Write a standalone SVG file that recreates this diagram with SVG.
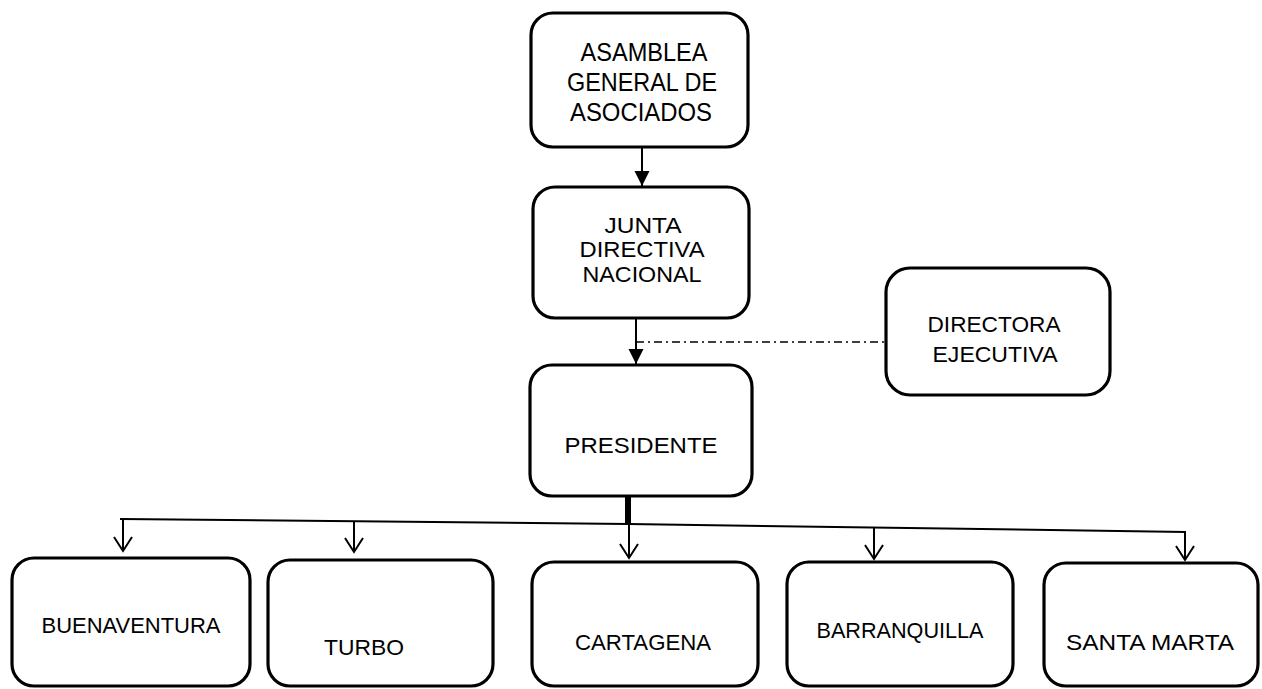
<svg xmlns="http://www.w3.org/2000/svg" width="1262" height="689" viewBox="0 0 1262 689">
<style>
.box{fill:#fff;stroke:#000;stroke-width:3.2}
.t{font-family:"Liberation Sans",Arial,sans-serif;fill:#000;text-anchor:middle;font-size:22.5px}
.big{font-size:25px}
.ln{fill:none;stroke:#000;stroke-width:2}
.dd{fill:none;stroke:#000;stroke-width:1.5;stroke-dasharray:8 4 2 4}
</style>
<defs>
<marker id="fill" markerUnits="userSpaceOnUse" markerWidth="16" markerHeight="16" refX="15" refY="7.5" orient="auto">
<path d="M0,0 L15,7.5 L0,15 Z" fill="#000"/>
</marker>
<marker id="open" markerUnits="userSpaceOnUse" markerWidth="18" markerHeight="22" refX="15" refY="10" orient="auto">
<path d="M1,1 L15,10 L1,19" fill="none" stroke="#000" stroke-width="2"/>
</marker>
</defs>
<rect width="1262" height="689" fill="#fff"/>
<g id="connectors">
<line class="ln" x1="642" y1="147" x2="642" y2="186" marker-end="url(#fill)"/>
<line class="ln" x1="636" y1="318" x2="636" y2="364" marker-end="url(#fill)"/>
<line class="dd" x1="636" y1="342" x2="886" y2="342"/>
<line x1="628" y1="496" x2="628" y2="525" stroke="#000" stroke-width="6"/>
<polyline class="ln" points="120,519 628,524 1186,532"/>
<line class="ln" x1="123" y1="519" x2="123" y2="551" marker-end="url(#open)"/>
<line class="ln" x1="354" y1="521" x2="354" y2="552" marker-end="url(#open)"/>
<line class="ln" x1="629" y1="524" x2="629" y2="558" marker-end="url(#open)"/>
<line class="ln" x1="874" y1="528" x2="874" y2="559" marker-end="url(#open)"/>
<line class="ln" x1="1185" y1="532" x2="1185" y2="560" marker-end="url(#open)"/>
</g>
<g id="asamblea">
<rect class="box" x="531" y="13" width="217" height="134" rx="22"/>
<text class="t big" x="644" y="61" textLength="127" lengthAdjust="spacingAndGlyphs">ASAMBLEA</text>
<text class="t big" x="642" y="91" textLength="150" lengthAdjust="spacingAndGlyphs">GENERAL DE</text>
<text class="t big" x="641" y="121" textLength="142" lengthAdjust="spacingAndGlyphs">ASOCIADOS</text>
</g>
<g id="junta">
<rect class="box" x="533" y="187" width="216" height="131" rx="22"/>
<text class="t" x="643" y="233" textLength="77" lengthAdjust="spacingAndGlyphs">JUNTA</text>
<text class="t" x="642" y="257" textLength="125" lengthAdjust="spacingAndGlyphs">DIRECTIVA</text>
<text class="t" x="642" y="282" textLength="119" lengthAdjust="spacingAndGlyphs">NACIONAL</text>
</g>
<g id="directora">
<rect class="box" x="886" y="268" width="224" height="127" rx="24"/>
<text class="t" x="994" y="332" textLength="133" lengthAdjust="spacingAndGlyphs">DIRECTORA</text>
<text class="t" x="995" y="362" textLength="125" lengthAdjust="spacingAndGlyphs">EJECUTIVA</text>
</g>
<g id="presidente">
<rect class="box" x="530" y="365" width="222" height="131" rx="22"/>
<text class="t" x="641" y="453" textLength="153" lengthAdjust="spacingAndGlyphs">PRESIDENTE</text>
</g>
<g id="buenaventura">
<rect class="box" x="12" y="558" width="238" height="128" rx="22"/>
<text class="t" x="131" y="633" textLength="179" lengthAdjust="spacingAndGlyphs">BUENAVENTURA</text>
</g>
<g id="turbo">
<rect class="box" x="268" y="560" width="225" height="126" rx="22"/>
<text class="t" x="364" y="655" textLength="80" lengthAdjust="spacingAndGlyphs">TURBO</text>
</g>
<g id="cartagena">
<rect class="box" x="532" y="562" width="226" height="124" rx="22"/>
<text class="t" x="643" y="650" textLength="136" lengthAdjust="spacingAndGlyphs">CARTAGENA</text>
</g>
<g id="barranquilla">
<rect class="box" x="787" y="562" width="226" height="124" rx="22"/>
<text class="t" x="900" y="638" textLength="167" lengthAdjust="spacingAndGlyphs">BARRANQUILLA</text>
</g>
<g id="santamarta">
<rect class="box" x="1044" y="563" width="214" height="123" rx="22"/>
<text class="t" x="1150" y="650" textLength="168" lengthAdjust="spacingAndGlyphs">SANTA MARTA</text>
</g>
</svg>
